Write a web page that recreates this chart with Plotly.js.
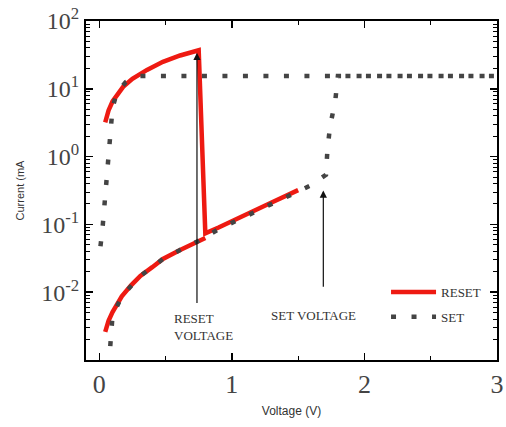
<!DOCTYPE html>
<html>
<head>
<meta charset="utf-8">
<script src="https://cdn.plot.ly/plotly-3.0.1.min.js"></script>
<style>html,body{margin:0;padding:0;background:#fff;}#chart{width:506px;height:427px;}</style>
</head>
<body>
<div id="chart"></div>
<script>
// RESET sweep: upper (LRS) branch, abrupt drop, HRS rise; then HRS branch at low voltage
const resetX = [0.045, 0.07, 0.1, 0.14, 0.18, 0.25, 0.36, 0.48, 0.61, 0.75, 0.8, 0.9, 1.0, 1.1, 1.2, 1.3, 1.4, 1.5,
                null, 0.045, 0.07, 0.1, 0.17, 0.24, 0.31, 0.4, 0.48, 0.61, 0.74, 0.8];
const resetY = [3.2, 4.8, 6.5, 8.5, 10.7, 14, 19, 25, 31, 37, 0.074, 0.09, 0.11, 0.14, 0.17, 0.21, 0.26, 0.32,
                null, 0.0026, 0.0038, 0.0051, 0.0087, 0.0126, 0.0174, 0.0234, 0.031, 0.042, 0.056, 0.063];
// SET sweep: HRS up to set voltage, jump to compliance, out to 3 V and back to 0 V
const setX = [0.083, 0.1, 0.17, 0.24, 0.31, 0.4, 0.48, 0.61, 0.74, 0.9, 1.1, 1.3, 1.5, 1.6, 1.71, 1.72, 1.74, 1.78, 1.8, 3.0,
              0.3, 0.2, 0.13, 0.1, 0.083, 0.068, 0.053, 0.038, 0.023, 0.0];
const setY = [0.0016, 0.0045, 0.0087, 0.0126, 0.0174, 0.0234, 0.031, 0.042, 0.056, 0.085, 0.13, 0.2, 0.3, 0.38, 0.54, 1.17, 2.75, 6.6, 15.5, 15.5,
              15.5, 12.6, 8.5, 5.2, 2.3, 1.0, 0.43, 0.18, 0.081, 0.034];
const yTickVals = [0.01, 0.1, 1, 10, 100];
const yTickText = ['10<sup>-2</sup>', '10<sup>-1</sup>', '10<sup>0</sup>', '10<sup>1</sup>', '10<sup>2</sup>'];
const xTickVals = [0, 1, 2, 3];
const xTickText = ['0', '1', '2', '3'];

const serif = 'Liberation Serif, Times New Roman, serif';
const sans = 'Liberation Sans, Arial, sans-serif';

const traces = [
  {x: resetX, y: resetY, type: 'scatter', mode: 'lines', name: 'RESET', legendgroup: 'a',
   line: {color: '#ee1a12', width: 4.5}, connectgaps: false},
  {x: setX, y: setY, type: 'scatter', mode: 'lines', name: 'SET', legendgroup: 'b',
   line: {color: '#444444', width: 4.5, dash: '5px,15.5px'}}
];

const layout = {
  width: 506, height: 427,
  margin: {l: 86, r: 9, t: 21, b: 67},
  paper_bgcolor: '#fff', plot_bgcolor: '#fff',
  showlegend: true,
  legend: {x: 0.73, y: 0.245, xanchor: 'left', yanchor: 'top', bgcolor: 'rgba(0,0,0,0)',
           font: {family: serif, size: 13, color: '#333'}, itemwidth: 45,
           traceorder: 'grouped', tracegroupgap: 5},
  xaxis: {range: [-0.1, 3], tickvals: xTickVals, ticktext: xTickText,
          ticks: 'inside', ticklen: 7, tickwidth: 1.5, tickcolor: '#000',
          showline: true, linecolor: '#000', linewidth: 2, mirror: 'allticks',
          showgrid: false, zeroline: false,
          minor: {tickvals: [0.5, 1.5, 2.5], ticks: 'inside', ticklen: 4, tickcolor: '#000', tickwidth: 1.2},
          tickfont: {family: serif, size: 26, color: '#444'},
          title: {text: 'Voltage (V)', font: {family: sans, size: 12, color: '#333'}, standoff: 8}},
  yaxis: {type: 'log', range: [-3, 2], tickvals: yTickVals, ticktext: yTickText,
          ticks: 'inside', ticklen: 7, tickwidth: 1.5, tickcolor: '#000',
          showline: true, linecolor: '#000', linewidth: 2, mirror: 'allticks',
          showgrid: false, zeroline: false,
          minor: {dtick: 'D1', ticks: 'inside', ticklen: 4, tickcolor: '#000', tickwidth: 1},
          tickfont: {family: serif, size: 24, color: '#444'},
          title: {text: 'Current (mA', font: {family: sans, size: 11, color: '#333'}, standoff: 14}},
  annotations: [
    {x: 0.737, y: 1.53, ax: 0.737, ay: -2.18, xref: 'x', yref: 'y', axref: 'x', ayref: 'y',
     showarrow: true, arrowhead: 2, arrowsize: 1.2, arrowwidth: 1.2, arrowcolor: '#111', standoff: 0, text: ''},
    {x: 1.69, y: -0.5, ax: 1.69, ay: -1.94, xref: 'x', yref: 'y', axref: 'x', ayref: 'y',
     showarrow: true, arrowhead: 2, arrowsize: 1.2, arrowwidth: 1.2, arrowcolor: '#111', standoff: 0, text: ''},
    {x: 0.55, y: -2.51, xref: 'x', yref: 'y', showarrow: false, xanchor: 'left', yanchor: 'middle', align: 'left',
     text: 'RESET<br>VOLTAGE', font: {family: serif, size: 13, color: '#333'}},
    {x: 1.28, y: -2.34, xref: 'x', yref: 'y', showarrow: false, xanchor: 'left', yanchor: 'middle', align: 'left',
     text: 'SET VOLTAGE', font: {family: serif, size: 13, color: '#333'}}
  ]
};

Plotly.newPlot('chart', traces, layout, {staticPlot: true, displayModeBar: false});
</script>
</body>
</html>
